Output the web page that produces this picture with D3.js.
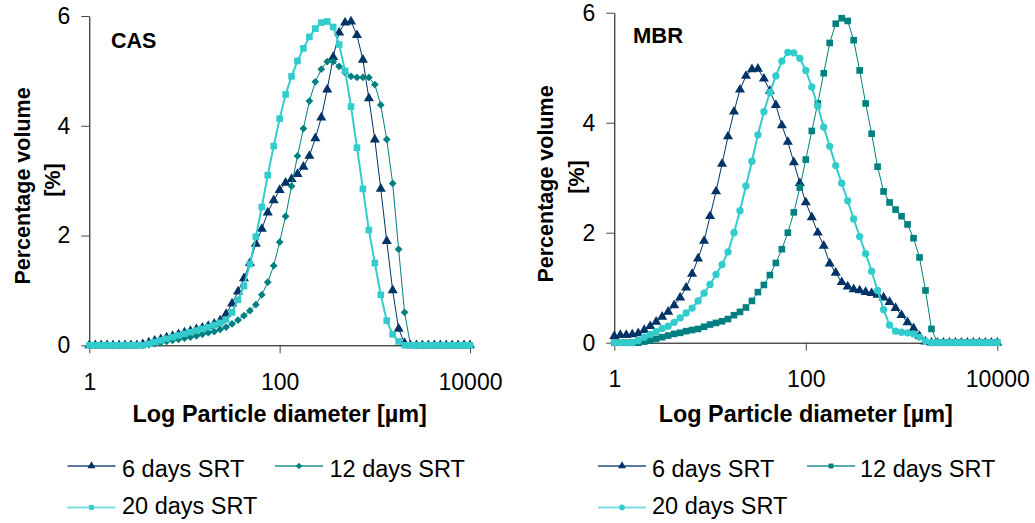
<!DOCTYPE html>
<html>
<head>
<meta charset="utf-8">
<script src="https://cdn.jsdelivr.net/npm/d3@7"></script>
<style>
  html, body { margin: 0; padding: 0; background: #fff; }
  svg { display: block; font-family: Arial, "Liberation Sans", sans-serif; }
</style>
</head>
<body>
<svg id="chart" width="1035" height="523"></svg>
<script>
// ---------------- DATA ----------------
const DIAMETER = [
  1, 1.155, 1.334, 1.54, 1.778, 2.054, 2.371, 2.738, 3.162, 3.652, 4.217, 4.87, 5.623, 6.494, 7.499, 8.66,
  10, 11.55, 13.34, 15.4, 17.78, 20.54, 23.71, 27.38, 31.62, 36.52, 42.17, 48.7, 56.23, 64.94, 74.99, 86.6,
  100, 115.5, 133.4, 154, 177.8, 205.4, 237.1, 273.8, 316.2, 365.2, 421.7, 487, 562.3, 649.4, 749.9, 866,
  1000, 1155, 1334, 1540, 1778, 2054, 2371, 2738, 3162, 3652, 4217, 4870, 5623, 6494, 7499, 8660, 10000
];

const CAS_6 = [
  0, 0, 0, 0, 0, 0, 0, 0, 0,
  0.02, 0.05, 0.08, 0.11, 0.14, 0.17, 0.2, 0.23, 0.26, 0.29, 0.32, 0.35, 0.39, 0.45,
  0.57, 0.76, 0.98, 1.22, 1.5, 1.85, 2.12, 2.42, 2.64, 2.83, 2.96, 3.03, 3.12, 3.25, 3.45, 3.77,
  4.15, 4.66, 5.25, 5.7, 5.88, 5.9, 5.65, 5.2, 4.5, 3.75, 2.85, 1.9, 1.0, 0.3, 0.04,
  0, 0, 0, 0, 0, 0, 0, 0, 0, 0, 0
];
const CAS_12 = [
  0, 0, 0, 0, 0, 0, 0, 0, 0, 0,
  0.01, 0.03, 0.05, 0.07, 0.09, 0.11, 0.13, 0.15, 0.17, 0.2, 0.23, 0.25, 0.29, 0.33,
  0.39, 0.46, 0.54, 0.63, 0.74, 0.92, 1.15, 1.45, 1.88, 2.35, 2.9, 3.45, 3.95, 4.45, 4.8,
  5.03, 5.17, 5.17, 5.08, 4.97, 4.9, 4.88, 4.88, 4.88, 4.75, 4.38, 3.75, 2.95, 1.75, 0.6,
  0, 0, 0, 0, 0, 0, 0, 0, 0, 0, 0
];
const CAS_20 = [
  0, 0, 0, 0, 0, 0, 0, 0, 0, 0,
  0.03, 0.06, 0.09, 0.12, 0.15, 0.18, 0.21, 0.24, 0.27, 0.3, 0.33, 0.37, 0.41, 0.47,
  0.6, 0.83, 1.08, 1.48, 1.98, 2.52, 3.1, 3.63, 4.13, 4.57, 4.9, 5.18, 5.41, 5.62, 5.77,
  5.88, 5.9, 5.8, 5.48, 5.0, 4.35, 3.6, 2.85, 2.1, 1.5, 0.92, 0.45, 0.2, 0.07,
  0, 0, 0, 0, 0, 0, 0, 0, 0, 0, 0, 0
];

const MBR_6 = [
  0.12, 0.14, 0.14, 0.15, 0.17, 0.23, 0.3, 0.38, 0.47, 0.56, 0.68, 0.82, 1.0, 1.25, 1.53, 1.85,
  2.3, 2.75, 3.25, 3.75, 4.2, 4.6, 4.85, 4.97, 4.98, 4.8, 4.58, 4.32, 3.95, 3.65, 3.28, 2.9,
  2.55, 2.28, 2.0, 1.76, 1.44, 1.27, 1.1, 1.02, 0.97, 0.95, 0.92, 0.9, 0.87, 0.82, 0.74, 0.63,
  0.5, 0.37, 0.26, 0.12, 0.02,
  0, 0, 0, 0, 0, 0, 0, 0, 0, 0, 0, 0
];
const MBR_12 = [
  0, 0, 0, 0, 0,
  0.02, 0.04, 0.07, 0.1, 0.13, 0.16, 0.18, 0.21, 0.23, 0.25, 0.29,
  0.33, 0.36, 0.39, 0.43, 0.5, 0.56, 0.64, 0.76, 0.92, 1.05, 1.23, 1.45, 1.7, 2.0, 2.37, 2.82,
  3.33, 3.85, 4.35, 4.9, 5.45, 5.8, 5.9, 5.85, 5.5, 4.95, 4.35, 3.8, 3.2, 2.75, 2.55, 2.42,
  2.3, 2.15, 1.9, 1.55, 0.95, 0.25,
  0, 0, 0, 0, 0, 0, 0, 0, 0, 0, 0
];
const MBR_20 = [
  0, 0, 0, 0,
  0.04, 0.1, 0.15, 0.2, 0.26, 0.3, 0.37, 0.45, 0.54, 0.63, 0.76, 0.9,
  1.06, 1.24, 1.42, 1.65, 2.0, 2.4, 2.85, 3.3, 3.78, 4.2, 4.55, 4.85, 5.12, 5.28, 5.27, 5.17,
  4.95, 4.65, 4.3, 3.92, 3.57, 3.22, 2.9, 2.58, 2.25, 1.93, 1.62, 1.3, 0.95, 0.6, 0.32, 0.21,
  0.19, 0.18, 0.16, 0.1, 0.03,
  0, 0, 0, 0, 0, 0, 0, 0, 0, 0, 0, 0
];

const X_TICKS = [1, 100, 10000];
const Y_TICKS = [0, 2, 4, 6];
const SERIES_NAMES = ["6 days SRT", "12 days SRT", "20 days SRT"];
const PANEL_TITLES = ["CAS", "MBR"];
const X_TITLE = "Log Particle diameter [µm]";
const Y_TITLE = ["Percentage volume", "[%]"];

// ---------------- STYLE ----------------
const NAVY = "#003366", TEAL = "#008080", CYAN = "#33CCCC";
const FONT = 'Arial, "Liberation Sans", sans-serif';

const svg = d3.select("#chart");

const sym = {
  triangle: d3.symbol().type(d3.symbolTriangle).size(44),
  diamond: d3.symbol().type(d3.symbolSquare).size(30),
  square: d3.symbol().type(d3.symbolSquare).size(44),
  circle: d3.symbol().type(d3.symbolCircle).size(42)
};
const legSym = {
  triangle: d3.symbol().type(d3.symbolTriangle).size(28),
  diamond: d3.symbol().type(d3.symbolSquare).size(20),
  square: d3.symbol().type(d3.symbolSquare).size(24),
  circle: d3.symbol().type(d3.symbolCircle).size(26)
};

const panels = [
  {
    title: PANEL_TITLES[0], titleX: 111, titleY: 48, titleSize: 21.5,
    xr: [89.3, 470], yr: [345.3, 16],
    yTitleX: [30, 60], yTitleY: [186, 180],
    series: [
      { name: SERIES_NAMES[0], values: CAS_6, color: NAVY, shape: "triangle", lw: 1 },
      { name: SERIES_NAMES[1], values: CAS_12, color: TEAL, shape: "diamond", lw: 1 },
      { name: SERIES_NAMES[2], values: CAS_20, color: CYAN, shape: "square", lw: 2 }
    ],
    legend: [
      { x: 67.5, y: 466, tx: 122, ty: 477 },
      { x: 275, y: 466, tx: 329.5, ty: 477 },
      { x: 67.5, y: 507.5, tx: 122, ty: 514 }
    ]
  },
  {
    title: PANEL_TITLES[1], titleX: 633, titleY: 43, titleSize: 22,
    xr: [614.3, 997.3], yr: [342.7, 12.7],
    yTitleX: [553, 584], yTitleY: [184, 177],
    series: [
      { name: SERIES_NAMES[0], values: MBR_6, color: NAVY, shape: "triangle", lw: 1 },
      { name: SERIES_NAMES[1], values: MBR_12, color: TEAL, shape: "square", lw: 1 },
      { name: SERIES_NAMES[2], values: MBR_20, color: CYAN, shape: "circle", lw: 2 }
    ],
    legend: [
      { x: 598, y: 466, tx: 652, ty: 477 },
      { x: 807, y: 466, tx: 860, ty: 477 },
      { x: 598, y: 507.5, tx: 652, ty: 514 }
    ]
  }
];

panels.forEach(p => {
  const x = d3.scaleLog().domain([1, 10000]).range(p.xr);
  const y = d3.scaleLinear().domain([0, 6]).range(p.yr);
  const g = svg.append("g");

  // axes
  const xAxis = d3.axisBottom(x).tickValues(X_TICKS).tickFormat(d3.format("d"))
    .tickSize(8).tickSizeOuter(0).tickPadding(20);
  const yAxis = d3.axisLeft(y).tickValues(Y_TICKS).tickFormat(d3.format("d"))
    .tickSize(8).tickSizeOuter(0).tickPadding(11);

  const gx = g.append("g").attr("transform", `translate(0,${p.yr[0]})`).call(xAxis);
  const gy = g.append("g").attr("transform", `translate(${p.xr[0]},0)`).call(yAxis);
  [gx, gy].forEach(a => {
    a.select(".domain").attr("stroke", "#000").attr("stroke-width", 1);
    a.selectAll(".tick line").attr("stroke", "#444").attr("stroke-width", 1);
    a.selectAll(".tick text").attr("fill", "#000").style("font-size", "23px").style("font-family", FONT);
  });

  // series
  const line = d3.line().x((d, i) => x(DIAMETER[i])).y(d => y(d));
  p.series.forEach(s => {
    const sg = g.append("g");
    sg.append("path").datum(s.values).attr("d", line)
      .attr("fill", "none").attr("stroke", s.color).attr("stroke-width", s.lw);
    sg.selectAll("path.m").data(s.values).enter().append("path").attr("class", "m")
      .attr("d", sym[s.shape])
      .attr("transform", (d, i) => `translate(${x(DIAMETER[i])},${y(d)})` + (s.shape === "diamond" ? " rotate(45)" : ""))
      .attr("fill", s.color);
  });

  // panel title
  g.append("text").attr("x", p.titleX).attr("y", p.titleY).text(p.title)
    .style("font-size", p.titleSize + "px").style("font-weight", "bold").attr("fill", "#000");

  // x title
  g.append("text").attr("x", (p.xr[0] + p.xr[1]) / 2).attr("y", 421.5)
    .attr("text-anchor", "middle").text(X_TITLE)
    .style("font-size", "23.4px").style("font-weight", "bold").attr("fill", "#000");

  // y title (two lines)
  Y_TITLE.forEach((t, k) => {
    g.append("text")
      .attr("transform", `translate(${p.yTitleX[k]},${p.yTitleY[k]}) rotate(-90)`)
      .attr("text-anchor", "middle").text(t)
      .style("font-size", "21.5px").style("font-weight", "bold").attr("fill", "#000");
  });

  // legend
  p.series.forEach((s, k) => {
    const L = p.legend[k];
    const lg = g.append("g");
    lg.append("line").attr("x1", L.x).attr("x2", L.x + 48).attr("y1", L.y).attr("y2", L.y)
      .attr("stroke", s.color).attr("stroke-width", 2).attr("stroke-opacity", 0.65);
    lg.append("path").attr("d", legSym[s.shape])
      .attr("transform", `translate(${L.x + 24},${L.y})` + (s.shape === "diamond" ? " rotate(45)" : ""))
      .attr("fill", s.color);
    lg.append("text").attr("x", L.tx).attr("y", L.ty).text(s.name)
      .style("font-size", "23.5px").attr("fill", "#000");
  });
});
</script>
</body>
</html>
